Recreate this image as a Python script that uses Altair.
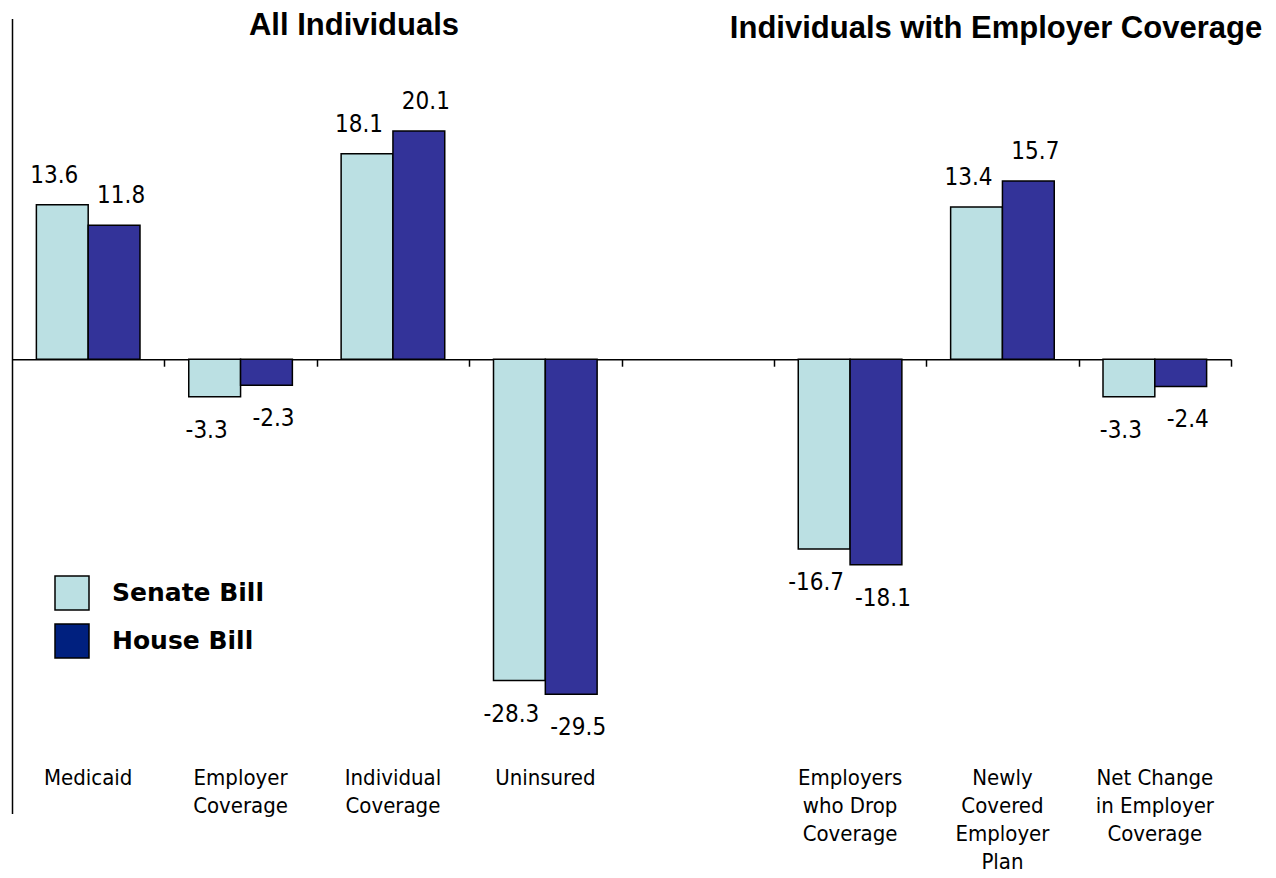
import altair as alt
import pandas as pd

# Categories on the x axis (the blank slot separates the two panels)
categories = [
    "Medicaid",
    "Employer Coverage",
    "Individual Coverage",
    "Uninsured",
    " ",
    "Employers who Drop Coverage",
    "Newly Covered Employer Plan",
    "Net Change in Employer Coverage",
]
category_labels = [
    "Medicaid",
    "Employer\nCoverage",
    "Individual\nCoverage",
    "Uninsured",
    "",
    "Employers\nwho Drop\nCoverage",
    "Newly\nCovered\nEmployer\nPlan",
    "Net Change\nin Employer\nCoverage",
]

bills = ["Senate Bill", "House Bill"]
senate_values = [13.6, -3.3, 18.1, -28.3, None, -16.7, 13.4, -3.3]
house_values = [11.8, -2.3, 20.1, -29.5, None, -18.1, 15.7, -2.4]

bar_colors = ["#BBE0E3", "#333399"]
legend_colors = ["#BBE0E3", "#00207F"]

panel_titles = ["All Individuals", "Individuals with Employer Coverage"]

rows = []
for cat, s, h in zip(categories, senate_values, house_values):
    if s is not None:
        rows.append({"category": cat, "bill": bills[0], "value": s})
    if h is not None:
        rows.append({"category": cat, "bill": bills[1], "value": h})
df = pd.DataFrame(rows)
# value labels use a plain hyphen for negatives
df["label"] = df["value"].map(lambda v: f"{v:.1f}")

labels_df = pd.DataFrame({"category": categories, "label": category_labels})
legend_df = pd.DataFrame({"bill": bills})

W, H = 1219, 795
Y_DOMAIN = [-40, 30]
zero_offset = -H * (0 - Y_DOMAIN[0]) / (Y_DOMAIN[1] - Y_DOMAIN[0])
step = W / len(categories)

x_enc = alt.X(
    "category:N",
    scale=alt.Scale(domain=categories, paddingInner=0.32, paddingOuter=0.16),
    axis=alt.Axis(
        orient="bottom",
        offset=zero_offset,
        labels=False,
        title=None,
        tickOffset=step / 2,
        domainColor="black",
        domainWidth=1.5,
        tickColor="black",
        tickWidth=1.5,
        tickSize=7,
        grid=False,
    ),
)
y_enc = alt.Y(
    "value:Q",
    scale=alt.Scale(domain=Y_DOMAIN, nice=False, zero=False),
    axis=alt.Axis(
        labels=False, ticks=False, title=None, grid=False,
        domainColor="black", domainWidth=1.5,
    ),
)
xoff_enc = alt.XOffset("bill:N", scale=alt.Scale(domain=bills, paddingInner=0, paddingOuter=0))

base = alt.Chart(df).encode(x=x_enc, y=y_enc, xOffset=xoff_enc)

bars = base.mark_bar(stroke="black", strokeWidth=1.5).encode(
    color=alt.Color("bill:N", scale=alt.Scale(domain=bills, range=bar_colors), legend=None)
)

value_font = "DejaVu Sans Condensed, DejaVu Sans"


def value_labels(bill, positive, dx):
    cond = "datum.value > 0" if positive else "datum.value < 0"
    return base.transform_filter(f"{cond} && datum.bill == '{bill}'").mark_text(
        dx=dx, dy=-29 if positive else 34, baseline="middle", align="center",
        font=value_font, fontSize=24, color="black",
    ).encode(text="label:N")


text_layers = [
    value_labels(bills[0], True, -8),
    value_labels(bills[0], False, -8),
    value_labels(bills[1], True, 7),
    value_labels(bills[1], False, 7),
]

cat_text = alt.Chart(labels_df).mark_text(
    baseline="alphabetic", align="center", lineBreak="\n", lineHeight=28,
    font=value_font, fontSize=22, color="black",
).encode(x=alt.X("category:N"), y=alt.value(766.5), text="label:N")

title_df = pd.DataFrame({"title": panel_titles, "px": [342, 984], "py": [16.5, 19.5]})
titles = alt.Chart(title_df).mark_text(
    font="Liberation Sans, Arial", fontWeight="bold", fontSize=31,
    align="center", baseline="alphabetic", color="black",
).encode(
    x=alt.X("px:Q", scale=None), y=alt.Y("py:Q", scale=None), text="title:N"
)

legend_layer = alt.Chart(legend_df).mark_square(opacity=0).encode(
    color=alt.Color(
        "bill:N",
        scale=alt.Scale(domain=bills, range=legend_colors),
        legend=alt.Legend(
            title=None,
            orient="none",
            legendX=42,
            legendY=556.5,
            padding=0,
            symbolType="square",
            symbolSize=34 * 34,
            symbolOpacity=1,
            symbolStrokeColor="black",
            symbolStrokeWidth=1.5,
            rowPadding=8,
            labelOffset=22,
            labelFont="DejaVu Sans",
            labelFontWeight="bold",
            labelFontSize=25,
            labelColor="black",
            labelLimit=400,
        ),
    )
)

chart = (
    alt.layer(bars, *text_layers, cat_text, titles, legend_layer)
    .resolve_scale(color="independent")
    .properties(
        width=W,
        height=H,
        autosize=alt.AutoSizeParams(type="none"),
        padding={"left": 12, "top": 18.5, "right": 1276 - 12 - W, "bottom": 878 - 18.5 - H},
        background="white",
    )
    .configure_view(stroke=None)
)

chart.save("out.html", embed_options={"renderer": "svg", "actions": False})
